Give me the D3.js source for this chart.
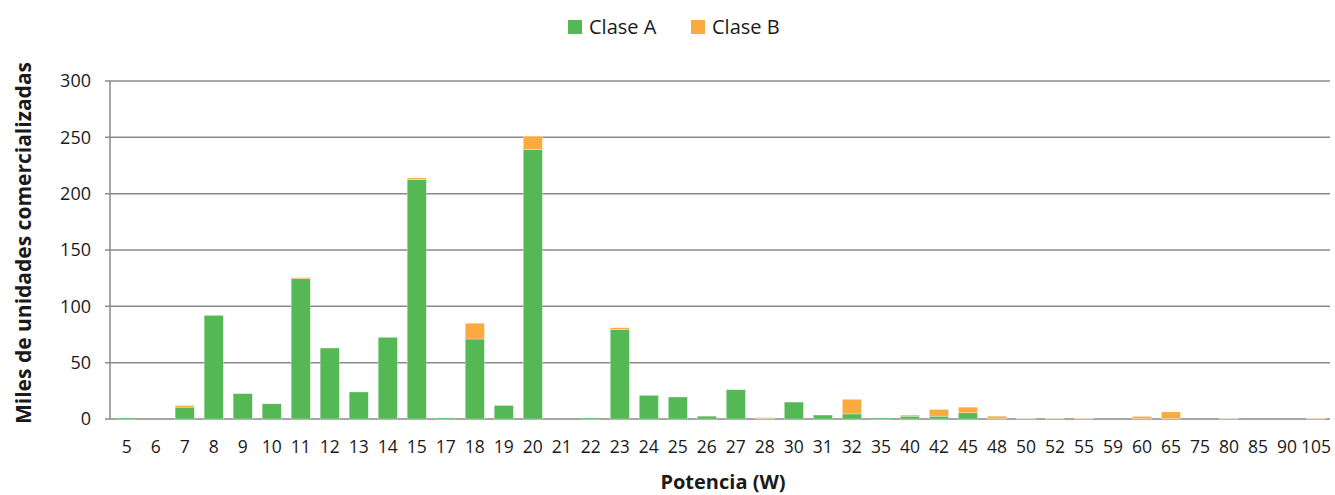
<!DOCTYPE html>
<html><head><meta charset="utf-8">
<script src="https://cdn.jsdelivr.net/npm/d3@7"></script>
<style>body{margin:0;background:#fff;} text{font-family:"Open Sans","Noto Sans",sans-serif;}</style>
</head><body><svg id="c" width="1335" height="495"></svg>
<script>
const categories = ["5","6","7","8","9","10","11","12","13","14","15","17","18","19","20","21","22","23","24","25","26","27","28","30","31","32","35","40","42","45","48","50","52","55","59","60","65","75","80","85","90","105"];
const claseA = [1,0,10.5,92,22.5,13.5,124.5,63,24,72.5,212.5,1,71,12,239,0,1,79.5,21,19.5,2.5,26,0.5,15,3.5,4.5,1,2.5,2.5,5.5,0.5,0.2,0.2,0.2,0,0.3,0.3,0,0.2,0,0,0.2];
const claseB = [0,0,1.5,0,0,0,1,0,0,0,1.5,0,14,0,12,0,0,1.5,0,0,0,0,0.8,0,0,13,0,1,6,5,2,0.5,0.5,0.5,0,2,6,0,0.5,0,0,0.5];
const yTicks = [0,50,100,150,200,250,300];
const seriesNames = ["Clase A","Clase B"];
const colors = ["#54B854","#FBAA3F"];

const svg = d3.select("#c");
const m = {l:110, r:1330, t:81, b:419};
const x = d3.scaleBand().domain(categories).range([112.2, 1330.5]).paddingInner(0.34).paddingOuter(0.17);
const y = d3.scaleLinear().domain([0,300]).range([m.b, m.t]);

// grid
svg.append("g").selectAll("line").data(yTicks).join("line")
  .attr("x1", m.l-5).attr("x2", m.r).attr("y1", d=>y(d)).attr("y2", d=>y(d))
  .attr("stroke","#8a8a8a").attr("stroke-width",1.5);
svg.append("line").attr("x1",m.l).attr("x2",m.l).attr("y1",m.t).attr("y2",m.b)
  .attr("stroke","#8a8a8a").attr("stroke-width",1.5);

const data = categories.map((c,i)=>({c, A:claseA[i], B:claseB[i]}));
const stack = d3.stack().keys(["A","B"])(data);
svg.append("g").selectAll("g").data(stack).join("g")
  .attr("fill",(d,i)=>colors[i])
  .selectAll("rect").data(d=>d).join("rect")
  .attr("x", d=>x(d.data.c)).attr("width", x.bandwidth())
  .attr("y", d=>y(d[1])).attr("height", d=>Math.max(0, y(d[0])-y(d[1])))
  .attr("stroke","#ffffff").attr("stroke-opacity",0.5).attr("stroke-width",0.6);

// y tick labels
svg.append("g").selectAll("text").data(yTicks).join("text")
  .attr("x", 91).attr("y", d=>y(d)).attr("dy","0.36em").attr("text-anchor","end")
  .attr("font-size",18).attr("fill","#1a1a1a").text(d=>d);

// x tick labels
svg.append("g").selectAll("text").data(categories).join("text")
  .attr("x", d=>x(d)+x.bandwidth()/2).attr("y", 453).attr("text-anchor","middle")
  .attr("font-size",17.5).attr("fill","#1a1a1a").text(d=>d);

// axis titles
svg.append("text").attr("x",723).attr("y",489).attr("text-anchor","middle")
  .attr("font-size",20).attr("font-weight","bold").attr("fill","#1a1a1a").text("Potencia (W)");
svg.append("text").attr("transform","translate(31,243) rotate(-90)").attr("text-anchor","middle")
  .attr("font-size",21).attr("font-weight","bold").attr("fill","#1a1a1a").text("Miles de unidades comercializadas");

// legend
const lg = svg.append("g");
const lx = [568, 691];
seriesNames.forEach((n,i)=>{
  lg.append("rect").attr("x",lx[i]).attr("y",20).attr("width",14).attr("height",14).attr("fill",colors[i]);
  lg.append("text").attr("x",lx[i]+21).attr("y",34).attr("font-size",20).attr("fill","#1a1a1a").text(n);
});
</script></body></html>
